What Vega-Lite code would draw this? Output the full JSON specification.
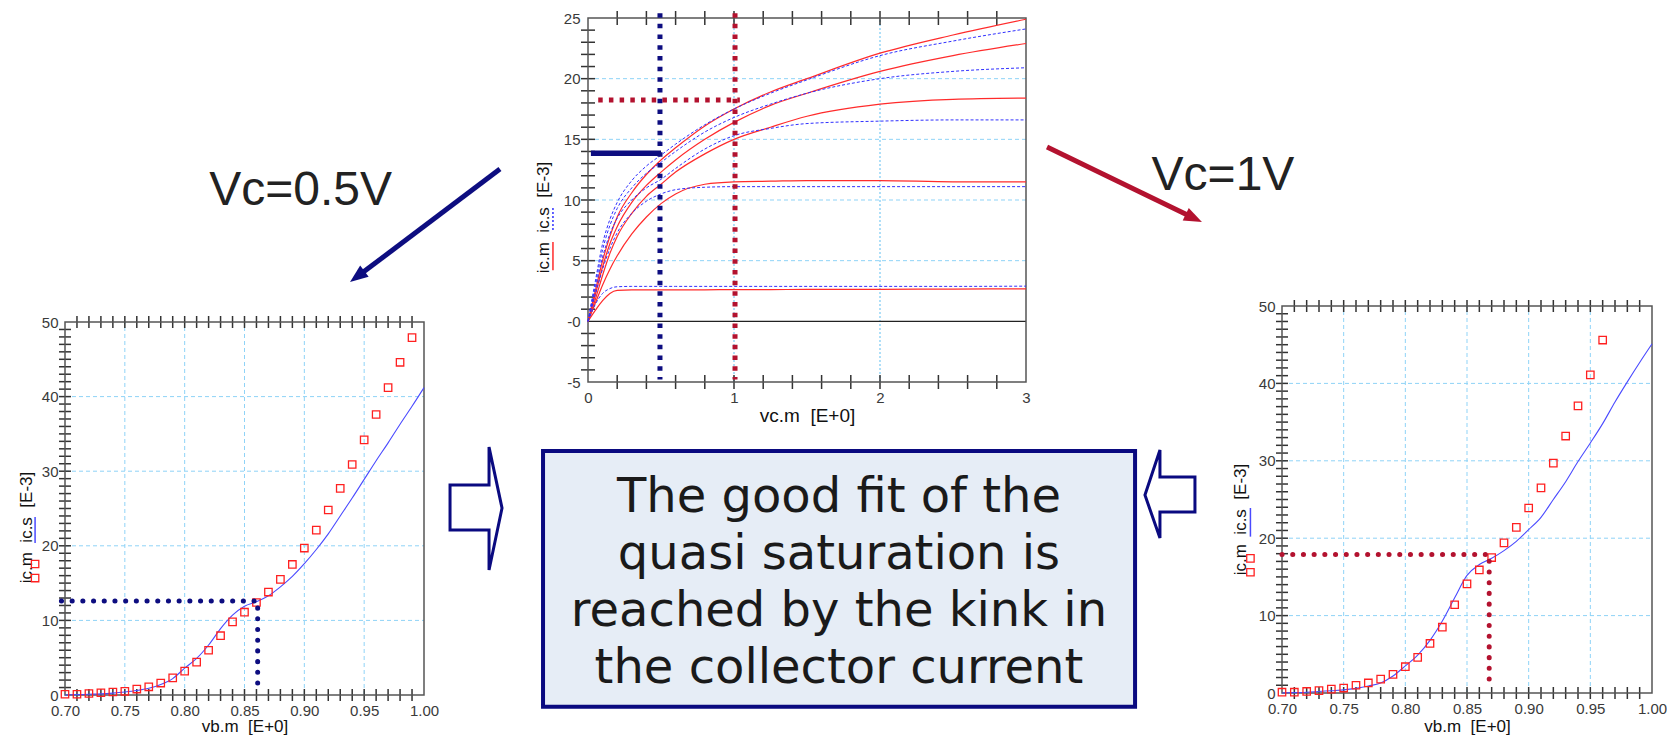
{
"$schema": "https://vega.github.io/schema/vega-lite/v6.json",
"width": 1667, "height": 738,
"autosize": {"type": "none"},
"padding": 0,
"background": "white",
"config": {
  "view": {"stroke": null},
  "axis": {"grid": false, "ticks": false, "domain": false, "labelFont": "Liberation Sans", "labelFontSize": 15, "labelColor": "#3a3a3a", "labelFlush": false, "labelOverlap": false, "labelPadding": 4, "titleFont": "Liberation Sans", "titleFontSize": 17, "titleFontWeight": "normal", "titleColor": "#111111"}
},
"datasets": {
  "iv": [
    {"vc":0,"Am":0,"As":0,"Bm":0,"Bs":0,"Cm":0,"Cs":0,"Dm":0,"Ds":0,"Em":0,"Es":0},
    {"vc":0.05,"Am":2.5,"As":3.3,"Bm":2.2,"Bs":3.0,"Cm":1.8,"Cs":2.7,"Dm":1.5,"Ds":2.2,"Em":0.9,"Es":1.4},
    {"vc":0.1,"Am":5.0,"As":6.4,"Bm":4.5,"Bs":5.9,"Cm":3.8,"Cs":5.3,"Dm":3.0,"Ds":4.3,"Em":1.7,"Es":2.3},
    {"vc":0.15,"Am":7.0,"As":8.4,"Bm":6.4,"Bs":7.9,"Cm":5.6,"Cs":7.2,"Dm":4.3,"Ds":6.0,"Em":2.3,"Es":2.7},
    {"vc":0.2,"Am":8.6,"As":9.8,"Bm":7.8,"Bs":9.3,"Cm":7.0,"Cs":8.5,"Dm":5.4,"Ds":7.3,"Em":2.55,"Es":2.85},
    {"vc":0.3,"Am":10.6,"As":11.6,"Bm":9.8,"Bs":11.0,"Cm":8.9,"Cs":10.0,"Dm":7.2,"Ds":8.9,"Em":2.6,"Es":2.88},
    {"vc":0.4,"Am":12.1,"As":12.8,"Bm":11.2,"Bs":12.2,"Cm":10.3,"Cs":11.0,"Dm":8.6,"Ds":9.9,"Em":2.6,"Es":2.88},
    {"vc":0.5,"Am":13.3,"As":13.7,"Bm":12.3,"Bs":13.1,"Cm":11.3,"Cs":11.7,"Dm":9.7,"Ds":10.5,"Em":2.6,"Es":2.88},
    {"vc":0.6,"Am":14.3,"As":14.6,"Bm":13.3,"Bs":14.0,"Cm":12.3,"Cs":12.6,"Dm":10.5,"Ds":10.85,"Em":2.6,"Es":2.88},
    {"vc":0.8,"Am":16.1,"As":16.2,"Bm":15.0,"Bs":15.6,"Cm":13.8,"Cs":14.2,"Dm":11.3,"Ds":11.05,"Em":2.6,"Es":2.88},
    {"vc":1.0,"Am":17.5,"As":17.5,"Bm":16.4,"Bs":16.8,"Cm":15.0,"Cs":15.3,"Dm":11.5,"Ds":11.1,"Em":2.62,"Es":2.88},
    {"vc":1.25,"Am":18.9,"As":18.8,"Bm":17.8,"Bs":17.9,"Cm":16.0,"Cs":15.9,"Dm":11.55,"Ds":11.1,"Em":2.62,"Es":2.88},
    {"vc":1.5,"Am":20.0,"As":19.9,"Bm":18.8,"Bs":18.8,"Cm":16.9,"Cs":16.3,"Dm":11.6,"Ds":11.1,"Em":2.63,"Es":2.88},
    {"vc":2.0,"Am":22.1,"As":21.9,"Bm":20.6,"Bs":20.0,"Cm":17.9,"Cs":16.5,"Dm":11.6,"Ds":11.1,"Em":2.64,"Es":2.88},
    {"vc":2.5,"Am":23.6,"As":23.1,"Bm":21.9,"Bs":20.6,"Cm":18.3,"Cs":16.6,"Dm":11.5,"Ds":11.1,"Em":2.66,"Es":2.88},
    {"vc":3.0,"Am":24.9,"As":24.1,"Bm":22.9,"Bs":20.9,"Cm":18.4,"Cs":16.6,"Dm":11.5,"Ds":11.1,"Em":2.68,"Es":2.9}
  ],
  "lb": [
    {"vb":0.70,"m":0.1,"s":0.0},{"vb":0.71,"m":0.1,"s":0.05},{"vb":0.72,"m":0.2,"s":0.1},{"vb":0.73,"m":0.3,"s":0.15},
    {"vb":0.74,"m":0.4,"s":0.25},{"vb":0.75,"m":0.5,"s":0.4},{"vb":0.76,"m":0.8,"s":0.6},{"vb":0.77,"m":1.1,"s":0.9},
    {"vb":0.78,"m":1.6,"s":1.4},{"vb":0.79,"m":2.3,"s":2.2},{"vb":0.80,"m":3.2,"s":3.6},{"vb":0.81,"m":4.4,"s":4.9},
    {"vb":0.82,"m":6.0,"s":6.7},{"vb":0.83,"m":7.95,"s":8.9},{"vb":0.84,"m":9.8,"s":10.7},{"vb":0.85,"m":11.1,"s":11.9},
    {"vb":0.86,"m":12.4,"s":12.5},{"vb":0.87,"m":13.8,"s":13.3},{"vb":0.88,"m":15.5,"s":14.5},{"vb":0.89,"m":17.5,"s":15.9},
    {"vb":0.90,"m":19.7,"s":17.6},{"vb":0.91,"m":22.1,"s":19.5},{"vb":0.92,"m":24.8,"s":21.6},{"vb":0.93,"m":27.7,"s":24.0},
    {"vb":0.94,"m":30.9,"s":26.4},{"vb":0.95,"m":34.2,"s":28.9},{"vb":0.96,"m":37.6,"s":31.4},{"vb":0.97,"m":41.2,"s":33.8},
    {"vb":0.98,"m":44.6,"s":36.3},{"vb":0.99,"m":47.9,"s":38.7},{"vb":1.00,"m":null,"s":41.2}
  ],
  "rb": [
    {"vb":0.70,"m":0.1,"s":0.0},{"vb":0.71,"m":0.1,"s":0.05},{"vb":0.72,"m":0.2,"s":0.1},{"vb":0.73,"m":0.3,"s":0.2},
    {"vb":0.74,"m":0.5,"s":0.3},{"vb":0.75,"m":0.64,"s":0.4},{"vb":0.76,"m":1.0,"s":0.6},{"vb":0.77,"m":1.3,"s":0.9},
    {"vb":0.78,"m":1.8,"s":1.3},{"vb":0.79,"m":2.4,"s":2.2},{"vb":0.80,"m":3.4,"s":3.5},{"vb":0.81,"m":4.6,"s":4.9},
    {"vb":0.82,"m":6.4,"s":6.8},{"vb":0.83,"m":8.5,"s":9.3},{"vb":0.84,"m":11.4,"s":12.3},{"vb":0.85,"m":14.1,"s":15.2},
    {"vb":0.86,"m":15.9,"s":16.6},{"vb":0.87,"m":17.5,"s":17.4},{"vb":0.88,"m":19.4,"s":18.4},{"vb":0.89,"m":21.4,"s":19.6},
    {"vb":0.90,"m":23.9,"s":21.1},{"vb":0.91,"m":26.5,"s":22.7},{"vb":0.92,"m":29.7,"s":25.0},{"vb":0.93,"m":33.2,"s":27.3},
    {"vb":0.94,"m":37.1,"s":29.9},{"vb":0.95,"m":41.1,"s":32.3},{"vb":0.96,"m":45.6,"s":34.8},{"vb":0.97,"m":null,"s":37.6},
    {"vb":0.98,"m":null,"s":40.2},{"vb":0.99,"m":null,"s":42.7},{"vb":1.00,"m":null,"s":45.1}
  ],
  "ldots": [{"p":1,"vb":0.697,"ic":12.6},{"p":2,"vb":0.861,"ic":12.6},{"p":3,"vb":0.861,"ic":1.2}],
  "rdots": [{"p":1,"vb":0.700,"ic":17.9},{"p":2,"vb":0.868,"ic":17.9},{"p":3,"vb":0.868,"ic":0.85}],
  "vbgrid": [{"vb":0.75},{"vb":0.8},{"vb":0.85},{"vb":0.9},{"vb":0.95}],
  "icgrid": [{"ic":10},{"ic":20},{"ic":30},{"ic":40}],
  "note": [{"text":"The good fit of the\nquasi saturation is\nreached by the kink in\nthe collector current"}],
  "one": [{}]
},
"layer": [
{
  "layer": [
    {"data":{"values":[{"ic":5},{"ic":10},{"ic":15},{"ic":20}]},
     "mark":{"type":"rule","color":"#8fd3f7","strokeWidth":1,"strokeDash":[4,3]},
     "encoding":{"y":{"field":"ic","type":"quantitative","scale":{"domain":[-5,25],"range":[382,18],"nice":false,"zero":false},"axis":null},
                 "x":{"datum":0,"type":"quantitative","scale":{"domain":[0,3],"range":[588,1026],"nice":false,"zero":false},"axis":null},
                 "x2":{"datum":3}}},
    {"data":{"values":[{"vc":1},{"vc":2}]},
     "mark":{"type":"rule","color":"#9bd7f7","strokeWidth":1.6,"strokeDash":[2,2]},
     "encoding":{"x":{"field":"vc","type":"quantitative","scale":{"domain":[0,3],"range":[588,1026],"nice":false,"zero":false},"axis":null},
                 "y":{"datum":-5,"type":"quantitative","scale":{"domain":[-5,25],"range":[382,18],"nice":false,"zero":false},"axis":null},
                 "y2":{"datum":25}}},
    {"data":{"name":"one"},
     "mark":{"type":"rule","color":"#222222","strokeWidth":1.2},
     "encoding":{"y":{"datum":0,"type":"quantitative","scale":{"domain":[-5,25],"range":[382,18],"nice":false,"zero":false},"axis":null},
                 "x":{"datum":0,"type":"quantitative","scale":{"domain":[0,3],"range":[588,1026],"nice":false,"zero":false},"axis":null},
                 "x2":{"datum":3}}},
    {"data":{"values":[{"vc":0.2},{"vc":0.4},{"vc":0.6},{"vc":0.8},{"vc":1},{"vc":1.2},{"vc":1.4},{"vc":1.6},{"vc":1.8},{"vc":2},{"vc":2.2},{"vc":2.4},{"vc":2.6},{"vc":2.8}]},
     "mark":{"type":"tick","color":"#333333","thickness":1.5,"size":14,"orient":"vertical","opacity":1},
     "encoding":{"x":{"field":"vc","type":"quantitative","scale":{"domain":[0,3],"range":[588,1026],"nice":false,"zero":false},"axis":null},
                 "y":{"datum":25,"type":"quantitative","scale":{"domain":[-5,25],"range":[382,18],"nice":false,"zero":false},"axis":null}}},
    {"data":{"values":[{"vc":0.2},{"vc":0.4},{"vc":0.6},{"vc":0.8},{"vc":1},{"vc":1.2},{"vc":1.4},{"vc":1.6},{"vc":1.8},{"vc":2},{"vc":2.2},{"vc":2.4},{"vc":2.6},{"vc":2.8}]},
     "mark":{"type":"tick","color":"#333333","thickness":1.5,"size":14,"orient":"vertical","opacity":1},
     "encoding":{"x":{"field":"vc","type":"quantitative","scale":{"domain":[0,3],"range":[588,1026],"nice":false,"zero":false},"axis":null},
                 "y":{"datum":-5,"type":"quantitative","scale":{"domain":[-5,25],"range":[382,18],"nice":false,"zero":false},"axis":null}}},
    {"data":{"values":[{"ic":-4},{"ic":-3},{"ic":-2},{"ic":-1},{"ic":1},{"ic":2},{"ic":3},{"ic":4},{"ic":5},{"ic":6},{"ic":7},{"ic":8},{"ic":9},{"ic":10},{"ic":11},{"ic":12},{"ic":13},{"ic":14},{"ic":15},{"ic":16},{"ic":17},{"ic":18},{"ic":19},{"ic":20},{"ic":21},{"ic":22},{"ic":23},{"ic":24}]},
     "mark":{"type":"tick","color":"#333333","thickness":1.5,"size":14,"orient":"horizontal","opacity":1},
     "encoding":{"y":{"field":"ic","type":"quantitative","scale":{"domain":[-5,25],"range":[382,18],"nice":false,"zero":false},"axis":null},
                 "x":{"datum":0,"type":"quantitative","scale":{"domain":[0,3],"range":[588,1026],"nice":false,"zero":false},"axis":null}}},
    {"data":{"name":"one"},
     "mark":{"type":"rect","fill":null,"stroke":"#555555","strokeWidth":1.5},
     "encoding":{"x":{"datum":0,"type":"quantitative","scale":{"domain":[0,3],"range":[588,1026],"nice":false,"zero":false},"axis":null},
                 "x2":{"datum":3},
                 "y":{"datum":-5,"type":"quantitative","scale":{"domain":[-5,25],"range":[382,18],"nice":false,"zero":false},"axis":null},
                 "y2":{"datum":25}}},
    {"data":{"name":"iv"},
     "transform":[{"fold":["Am","Bm","Cm","Dm","Em"],"as":["curve","ic"]}],
     "mark":{"type":"line","color":"#ff2b2b","strokeWidth":1.2,"interpolate":"monotone"},
     "encoding":{"x":{"field":"vc","type":"quantitative","scale":{"domain":[0,3],"range":[588,1026],"nice":false,"zero":false},
                      "axis":{"orient":"bottom","offset":-356,"values":[0,1,2,3],"labelPadding":8,"title":"vc.m\u00a0\u00a0[E+0]","titleFontSize":19,"titleY":39,"titleBaseline":"alphabetic"}},
                 "y":{"field":"ic","type":"quantitative","scale":{"domain":[-5,25],"range":[382,18],"nice":false,"zero":false},
                      "axis":{"orient":"left","offset":-588,"values":[-5,0,5,10,15,20,25],"labelExpr":"datum.value === 0 ? '-0' : (datum.value < 0 ? '-' + abs(datum.value) : datum.label)","labelPadding":8,"title":"ic.m\u00a0\u00a0ic.s\u00a0\u00a0[E-3]","titleFontSize":17,"titleX":-40,"titleY":217,"titleBaseline":"alphabetic","titleAngle":270,"titleAlign":"center"}},
                 "detail":{"field":"curve"}}},
    {"data":{"name":"iv"},
     "transform":[{"fold":["As","Bs","Cs","Ds","Es"],"as":["curve","ic"]}],
     "mark":{"type":"line","color":"#3030ff","strokeWidth":1,"strokeDash":[3,2],"interpolate":"monotone"},
     "encoding":{"x":{"field":"vc","type":"quantitative","scale":{"domain":[0,3],"range":[588,1026],"nice":false,"zero":false},"axis":null},
                 "y":{"field":"ic","type":"quantitative","scale":{"domain":[-5,25],"range":[382,18],"nice":false,"zero":false},"axis":null},
                 "detail":{"field":"curve"}}},
    {"data":{"name":"one"},
     "mark":{"type":"rule","color":"#0d0d80","strokeWidth":5,"strokeDash":[4.5,6.2]},
     "encoding":{"x":{"datum":0.493,"type":"quantitative","scale":{"domain":[0,3],"range":[588,1026],"nice":false,"zero":false},"axis":null},
                 "y":{"datum":25.4,"type":"quantitative","scale":{"domain":[-5,25],"range":[382,18],"nice":false,"zero":false},"axis":null},
                 "y2":{"datum":-4.8}}},
    {"data":{"name":"one"},
     "mark":{"type":"rule","color":"#b3122f","strokeWidth":5,"strokeDash":[4.5,6.2]},
     "encoding":{"x":{"datum":1.007,"type":"quantitative","scale":{"domain":[0,3],"range":[588,1026],"nice":false,"zero":false},"axis":null},
                 "y":{"datum":25.4,"type":"quantitative","scale":{"domain":[-5,25],"range":[382,18],"nice":false,"zero":false},"axis":null},
                 "y2":{"datum":-4.8}}},
    {"data":{"name":"one"},
     "mark":{"type":"rule","color":"#b3122f","strokeWidth":5,"strokeDash":[4.5,6.2]},
     "encoding":{"x":{"datum":0.07,"type":"quantitative","scale":{"domain":[0,3],"range":[588,1026],"nice":false,"zero":false},"axis":null},
                 "x2":{"datum":1.04},
                 "y":{"datum":18.25,"type":"quantitative","scale":{"domain":[-5,25],"range":[382,18],"nice":false,"zero":false},"axis":null}}},
    {"data":{"name":"one"},
     "mark":{"type":"rule","color":"#0d0d80","strokeWidth":5.5},
     "encoding":{"x":{"datum":0.02,"type":"quantitative","scale":{"domain":[0,3],"range":[588,1026],"nice":false,"zero":false},"axis":null},
                 "x2":{"datum":0.5},
                 "y":{"datum":13.85,"type":"quantitative","scale":{"domain":[-5,25],"range":[382,18],"nice":false,"zero":false},"axis":null}}},
    {"data":{"name":"one"},
     "mark":{"type":"rule","color":"#ff2b2b","strokeWidth":1.5},
     "encoding":{"x":{"datum":-0.24,"type":"quantitative","scale":{"domain":[0,3],"range":[588,1026],"nice":false,"zero":false},"axis":null},
                 "y":{"datum":6.54,"type":"quantitative","scale":{"domain":[-5,25],"range":[382,18],"nice":false,"zero":false},"axis":null},
                 "y2":{"datum":4.2}}},
    {"data":{"name":"one"},
     "mark":{"type":"rule","color":"#3030ff","strokeWidth":1.5,"strokeDash":[2,2]},
     "encoding":{"x":{"datum":-0.24,"type":"quantitative","scale":{"domain":[0,3],"range":[588,1026],"nice":false,"zero":false},"axis":null},
                 "y":{"datum":9.34,"type":"quantitative","scale":{"domain":[-5,25],"range":[382,18],"nice":false,"zero":false},"axis":null},
                 "y2":{"datum":7.36}}},
    {"data":{"name":"one"},
     "mark":{"type":"rect","fill":"#e6edf6","stroke":"#0a0a80","strokeWidth":4},
     "encoding":{"x":{"datum":-0.308,"type":"quantitative","scale":{"domain":[0,3],"range":[588,1026],"nice":false,"zero":false},"axis":null},
                 "x2":{"datum":3.747},
                 "y":{"datum":-10.69,"type":"quantitative","scale":{"domain":[-5,25],"range":[382,18],"nice":false,"zero":false},"axis":null},
                 "y2":{"datum":-31.77}}},
    {"data":{"name":"note"},
     "mark":{"type":"text","font":"DejaVu Sans","fontSize":48,"lineHeight":57.2,"lineBreak":"\n","align":"center","baseline":"alphabetic","color":"#1a1a1a"},
     "encoding":{"text":{"field":"text"},
                 "x":{"datum":1.719,"type":"quantitative","scale":{"domain":[0,3],"range":[588,1026],"nice":false,"zero":false},"axis":null},
                 "y":{"datum":-15.69,"type":"quantitative","scale":{"domain":[-5,25],"range":[382,18],"nice":false,"zero":false},"axis":null}}},
    {"data":{"values":[{"label":"Vc=0.5V"}]},
     "mark":{"type":"text","font":"Liberation Sans","fontSize":48,"align":"center","baseline":"alphabetic","color":"#222222"},
     "encoding":{"text":{"field":"label"},
                 "x":{"datum":-1.969,"type":"quantitative","scale":{"domain":[0,3],"range":[588,1026],"nice":false,"zero":false},"axis":null},
                 "y":{"datum":9.59,"type":"quantitative","scale":{"domain":[-5,25],"range":[382,18],"nice":false,"zero":false},"axis":null}}},
    {"data":{"values":[{"label":"Vc=1V"}]},
     "mark":{"type":"text","font":"Liberation Sans","fontSize":48,"align":"center","baseline":"alphabetic","color":"#222222"},
     "encoding":{"text":{"field":"label"},
                 "x":{"datum":4.349,"type":"quantitative","scale":{"domain":[0,3],"range":[588,1026],"nice":false,"zero":false},"axis":null},
                 "y":{"datum":10.82,"type":"quantitative","scale":{"domain":[-5,25],"range":[382,18],"nice":false,"zero":false},"axis":null}}},
    {"data":{"name":"one"},
     "mark":{"type":"rule","color":"#0d0d80","strokeWidth":5},
     "encoding":{"x":{"datum":-0.603,"type":"quantitative","scale":{"domain":[0,3],"range":[588,1026],"nice":false,"zero":false},"axis":null},
                 "x2":{"datum":-1.564},
                 "y":{"datum":12.55,"type":"quantitative","scale":{"domain":[-5,25],"range":[382,18],"nice":false,"zero":false},"axis":null},
                 "y2":{"datum":3.83}}},
    {"data":{"name":"one"},
     "mark":{"type":"rule","color":"#b3122f","strokeWidth":5},
     "encoding":{"x":{"datum":3.144,"type":"quantitative","scale":{"domain":[0,3],"range":[588,1026],"nice":false,"zero":false},"axis":null},
                 "x2":{"datum":4.131},
                 "y":{"datum":14.37,"type":"quantitative","scale":{"domain":[-5,25],"range":[382,18],"nice":false,"zero":false},"axis":null},
                 "y2":{"datum":8.61}}},
    {"data":{"name":"one"},
     "mark":{"type":"point","shape":"M 0 0 L -18 -7 L -18 7 Z","size":4,"angle":143,"filled":true,"color":"#0d0d80","opacity":1,"strokeWidth":0},
     "encoding":{"x":{"datum":-1.63,"type":"quantitative","scale":{"domain":[0,3],"range":[588,1026],"nice":false,"zero":false},"axis":null},
                 "y":{"datum":3.24,"type":"quantitative","scale":{"domain":[-5,25],"range":[382,18],"nice":false,"zero":false},"axis":null}}},
    {"data":{"name":"one"},
     "mark":{"type":"point","shape":"M 0 0 L -18 -7 L -18 7 Z","size":4,"angle":25.8,"filled":true,"color":"#b3122f","opacity":1,"strokeWidth":0},
     "encoding":{"x":{"datum":4.205,"type":"quantitative","scale":{"domain":[0,3],"range":[588,1026],"nice":false,"zero":false},"axis":null},
                 "y":{"datum":8.18,"type":"quantitative","scale":{"domain":[-5,25],"range":[382,18],"nice":false,"zero":false},"axis":null}}},
    {"data":{"name":"one"},
     "mark":{"type":"point","shape":"M -20 -23 L 19 -23 L 19 -61 L 32 0 L 19 62 L 19 22 L -20 22 Z","size":4,"filled":true,"fill":"#ffffff","stroke":"#0a0a80","strokeWidth":3,"opacity":1},
     "encoding":{"x":{"datum":-0.808,"type":"quantitative","scale":{"domain":[0,3],"range":[588,1026],"nice":false,"zero":false},"axis":null},
                 "y":{"datum":-15.39,"type":"quantitative","scale":{"domain":[-5,25],"range":[382,18],"nice":false,"zero":false},"axis":null}}},
    {"data":{"name":"one"},
     "mark":{"type":"point","shape":"M 25 -18 L -10 -18 L -10 -45 L -25 0 L -10 43 L -10 17 L 25 17 Z","size":4,"filled":true,"fill":"#ffffff","stroke":"#0a0a80","strokeWidth":3,"opacity":1},
     "encoding":{"x":{"datum":3.986,"type":"quantitative","scale":{"domain":[0,3],"range":[588,1026],"nice":false,"zero":false},"axis":null},
                 "y":{"datum":-14.32,"type":"quantitative","scale":{"domain":[-5,25],"range":[382,18],"nice":false,"zero":false},"axis":null}}}
  ],
  "resolve": {"axis": {"x": "independent", "y": "independent"}}
},
{
  "layer": [
    {"data":{"name":"icgrid"},
     "mark":{"type":"rule","color":"#8fd3f7","strokeWidth":1,"strokeDash":[4,3]},
     "encoding":{"y":{"field":"ic","type":"quantitative","scale":{"domain":[0,50],"range":[695,322],"nice":false,"zero":false},"axis":null},
                 "x":{"datum":0.7,"type":"quantitative","scale":{"domain":[0.7,1.0],"range":[65,424],"nice":false,"zero":false},"axis":null},
                 "x2":{"datum":1.0}}},
    {"data":{"name":"vbgrid"},
     "mark":{"type":"rule","color":"#8fd3f7","strokeWidth":1,"strokeDash":[4,3]},
     "encoding":{"x":{"field":"vb","type":"quantitative","scale":{"domain":[0.7,1.0],"range":[65,424],"nice":false,"zero":false},"axis":null},
                 "y":{"datum":0,"type":"quantitative","scale":{"domain":[0,50],"range":[695,322],"nice":false,"zero":false},"axis":null},
                 "y2":{"datum":50}}},
    {"data":{"values":[{"vb":0.71},{"vb":0.72},{"vb":0.73},{"vb":0.74},{"vb":0.75},{"vb":0.76},{"vb":0.77},{"vb":0.78},{"vb":0.79},{"vb":0.8},{"vb":0.81},{"vb":0.82},{"vb":0.83},{"vb":0.84},{"vb":0.85},{"vb":0.86},{"vb":0.87},{"vb":0.88},{"vb":0.89},{"vb":0.9},{"vb":0.91},{"vb":0.92},{"vb":0.93},{"vb":0.94},{"vb":0.95},{"vb":0.96},{"vb":0.97},{"vb":0.98},{"vb":0.99}]},
     "mark":{"type":"tick","color":"#333333","thickness":1.5,"size":12,"orient":"vertical","opacity":1},
     "encoding":{"x":{"field":"vb","type":"quantitative","scale":{"domain":[0.7,1.0],"range":[65,424],"nice":false,"zero":false},"axis":null},
                 "y":{"datum":50,"type":"quantitative","scale":{"domain":[0,50],"range":[695,322],"nice":false,"zero":false},"axis":null}}},
    {"data":{"values":[{"vb":0.71},{"vb":0.72},{"vb":0.73},{"vb":0.74},{"vb":0.75},{"vb":0.76},{"vb":0.77},{"vb":0.78},{"vb":0.79},{"vb":0.8},{"vb":0.81},{"vb":0.82},{"vb":0.83},{"vb":0.84},{"vb":0.85},{"vb":0.86},{"vb":0.87},{"vb":0.88},{"vb":0.89},{"vb":0.9},{"vb":0.91},{"vb":0.92},{"vb":0.93},{"vb":0.94},{"vb":0.95},{"vb":0.96},{"vb":0.97},{"vb":0.98},{"vb":0.99}]},
     "mark":{"type":"tick","color":"#333333","thickness":1.5,"size":12,"orient":"vertical","opacity":1},
     "encoding":{"x":{"field":"vb","type":"quantitative","scale":{"domain":[0.7,1.0],"range":[65,424],"nice":false,"zero":false},"axis":null},
                 "y":{"datum":0,"type":"quantitative","scale":{"domain":[0,50],"range":[695,322],"nice":false,"zero":false},"axis":null}}},
    {"data":{"values":[{"ic":1},{"ic":2},{"ic":3},{"ic":4},{"ic":5},{"ic":6},{"ic":7},{"ic":8},{"ic":9},{"ic":10},{"ic":11},{"ic":12},{"ic":13},{"ic":14},{"ic":15},{"ic":16},{"ic":17},{"ic":18},{"ic":19},{"ic":20},{"ic":21},{"ic":22},{"ic":23},{"ic":24},{"ic":25},{"ic":26},{"ic":27},{"ic":28},{"ic":29},{"ic":30},{"ic":31},{"ic":32},{"ic":33},{"ic":34},{"ic":35},{"ic":36},{"ic":37},{"ic":38},{"ic":39},{"ic":40},{"ic":41},{"ic":42},{"ic":43},{"ic":44},{"ic":45},{"ic":46},{"ic":47},{"ic":48},{"ic":49}]},
     "mark":{"type":"tick","color":"#333333","thickness":1.5,"size":12,"orient":"horizontal","opacity":1},
     "encoding":{"y":{"field":"ic","type":"quantitative","scale":{"domain":[0,50],"range":[695,322],"nice":false,"zero":false},"axis":null},
                 "x":{"datum":0.7,"type":"quantitative","scale":{"domain":[0.7,1.0],"range":[65,424],"nice":false,"zero":false},"axis":null}}},
    {"data":{"name":"one"},
     "mark":{"type":"rect","fill":null,"stroke":"#555555","strokeWidth":1.5},
     "encoding":{"x":{"datum":0.7,"type":"quantitative","scale":{"domain":[0.7,1.0],"range":[65,424],"nice":false,"zero":false},"axis":null},
                 "x2":{"datum":1.0},
                 "y":{"datum":0,"type":"quantitative","scale":{"domain":[0,50],"range":[695,322],"nice":false,"zero":false},"axis":null},
                 "y2":{"datum":50}}},
    {"data":{"name":"lb"},
     "mark":{"type":"line","color":"#4a4aff","strokeWidth":1.1,"interpolate":"monotone"},
     "encoding":{"x":{"field":"vb","type":"quantitative","scale":{"domain":[0.7,1.0],"range":[65,424],"nice":false,"zero":false},
                      "axis":{"orient":"bottom","offset":-43,"values":[0.7,0.75,0.8,0.85,0.9,0.95,1.0],"format":".2f","labelPadding":8,"title":"vb.m\u00a0\u00a0[E+0]","titleY":36,"titleBaseline":"alphabetic"}},
                 "y":{"field":"s","type":"quantitative","scale":{"domain":[0,50],"range":[695,322],"nice":false,"zero":false},
                      "axis":{"orient":"left","offset":-65,"values":[0,10,20,30,40,50],"labelPadding":7,"title":"ic.m\u00a0\u00a0ic.s\u00a0\u00a0[E-3]","titleX":-34,"titleY":527,"titleBaseline":"alphabetic","titleAngle":270,"titleAlign":"center"}}}},
    {"data":{"name":"lb"},
     "transform":[{"filter":"datum.m != null"}],
     "mark":{"type":"point","shape":"square","size":55,"filled":false,"color":"#ff2020","strokeWidth":1.3,"opacity":1},
     "encoding":{"x":{"field":"vb","type":"quantitative","scale":{"domain":[0.7,1.0],"range":[65,424],"nice":false,"zero":false},"axis":null},
                 "y":{"field":"m","type":"quantitative","scale":{"domain":[0,50],"range":[695,322],"nice":false,"zero":false},"axis":null}}},
    {"data":{"name":"ldots"},
     "mark":{"type":"line","color":"#0d0d80","strokeWidth":5,"strokeDash":[0.1,10.6],"strokeCap":"round"},
     "encoding":{"x":{"field":"vb","type":"quantitative","scale":{"domain":[0.7,1.0],"range":[65,424],"nice":false,"zero":false},"axis":null},
                 "y":{"field":"ic","type":"quantitative","scale":{"domain":[0,50],"range":[695,322],"nice":false,"zero":false},"axis":null},
                 "order":{"field":"p"}}},
    {"data":{"name":"one"},
     "mark":{"type":"rule","color":"#4a4aff","strokeWidth":1.5},
     "encoding":{"x":{"datum":0.675,"type":"quantitative","scale":{"domain":[0.7,1.0],"range":[65,424],"nice":false,"zero":false},"axis":null},
                 "y":{"datum":23.86,"type":"quantitative","scale":{"domain":[0,50],"range":[695,322],"nice":false,"zero":false},"axis":null},
                 "y2":{"datum":20.38}}},
    {"data":{"values":[{"ic":17.56},{"ic":15.68}]},
     "mark":{"type":"point","shape":"square","size":55,"filled":false,"color":"#ff2020","strokeWidth":1.3,"opacity":1},
     "encoding":{"x":{"datum":0.675,"type":"quantitative","scale":{"domain":[0.7,1.0],"range":[65,424],"nice":false,"zero":false},"axis":null},
                 "y":{"field":"ic","type":"quantitative","scale":{"domain":[0,50],"range":[695,322],"nice":false,"zero":false},"axis":null}}}
  ],
  "resolve": {"axis": {"x": "independent", "y": "independent"}}
},
{
  "layer": [
    {"data":{"name":"icgrid"},
     "mark":{"type":"rule","color":"#8fd3f7","strokeWidth":1,"strokeDash":[4,3]},
     "encoding":{"y":{"field":"ic","type":"quantitative","scale":{"domain":[0,50],"range":[693,306],"nice":false,"zero":false},"axis":null},
                 "x":{"datum":0.7,"type":"quantitative","scale":{"domain":[0.7,1.0],"range":[1282,1652],"nice":false,"zero":false},"axis":null},
                 "x2":{"datum":1.0}}},
    {"data":{"name":"vbgrid"},
     "mark":{"type":"rule","color":"#8fd3f7","strokeWidth":1,"strokeDash":[4,3]},
     "encoding":{"x":{"field":"vb","type":"quantitative","scale":{"domain":[0.7,1.0],"range":[1282,1652],"nice":false,"zero":false},"axis":null},
                 "y":{"datum":0,"type":"quantitative","scale":{"domain":[0,50],"range":[693,306],"nice":false,"zero":false},"axis":null},
                 "y2":{"datum":50}}},
    {"data":{"values":[{"vb":0.71},{"vb":0.72},{"vb":0.73},{"vb":0.74},{"vb":0.75},{"vb":0.76},{"vb":0.77},{"vb":0.78},{"vb":0.79},{"vb":0.8},{"vb":0.81},{"vb":0.82},{"vb":0.83},{"vb":0.84},{"vb":0.85},{"vb":0.86},{"vb":0.87},{"vb":0.88},{"vb":0.89},{"vb":0.9},{"vb":0.91},{"vb":0.92},{"vb":0.93},{"vb":0.94},{"vb":0.95},{"vb":0.96},{"vb":0.97},{"vb":0.98},{"vb":0.99}]},
     "mark":{"type":"tick","color":"#333333","thickness":1.5,"size":12,"orient":"vertical","opacity":1},
     "encoding":{"x":{"field":"vb","type":"quantitative","scale":{"domain":[0.7,1.0],"range":[1282,1652],"nice":false,"zero":false},"axis":null},
                 "y":{"datum":50,"type":"quantitative","scale":{"domain":[0,50],"range":[693,306],"nice":false,"zero":false},"axis":null}}},
    {"data":{"values":[{"vb":0.71},{"vb":0.72},{"vb":0.73},{"vb":0.74},{"vb":0.75},{"vb":0.76},{"vb":0.77},{"vb":0.78},{"vb":0.79},{"vb":0.8},{"vb":0.81},{"vb":0.82},{"vb":0.83},{"vb":0.84},{"vb":0.85},{"vb":0.86},{"vb":0.87},{"vb":0.88},{"vb":0.89},{"vb":0.9},{"vb":0.91},{"vb":0.92},{"vb":0.93},{"vb":0.94},{"vb":0.95},{"vb":0.96},{"vb":0.97},{"vb":0.98},{"vb":0.99}]},
     "mark":{"type":"tick","color":"#333333","thickness":1.5,"size":12,"orient":"vertical","opacity":1},
     "encoding":{"x":{"field":"vb","type":"quantitative","scale":{"domain":[0.7,1.0],"range":[1282,1652],"nice":false,"zero":false},"axis":null},
                 "y":{"datum":0,"type":"quantitative","scale":{"domain":[0,50],"range":[693,306],"nice":false,"zero":false},"axis":null}}},
    {"data":{"values":[{"ic":1},{"ic":2},{"ic":3},{"ic":4},{"ic":5},{"ic":6},{"ic":7},{"ic":8},{"ic":9},{"ic":10},{"ic":11},{"ic":12},{"ic":13},{"ic":14},{"ic":15},{"ic":16},{"ic":17},{"ic":18},{"ic":19},{"ic":20},{"ic":21},{"ic":22},{"ic":23},{"ic":24},{"ic":25},{"ic":26},{"ic":27},{"ic":28},{"ic":29},{"ic":30},{"ic":31},{"ic":32},{"ic":33},{"ic":34},{"ic":35},{"ic":36},{"ic":37},{"ic":38},{"ic":39},{"ic":40},{"ic":41},{"ic":42},{"ic":43},{"ic":44},{"ic":45},{"ic":46},{"ic":47},{"ic":48},{"ic":49}]},
     "mark":{"type":"tick","color":"#333333","thickness":1.5,"size":12,"orient":"horizontal","opacity":1},
     "encoding":{"y":{"field":"ic","type":"quantitative","scale":{"domain":[0,50],"range":[693,306],"nice":false,"zero":false},"axis":null},
                 "x":{"datum":0.7,"type":"quantitative","scale":{"domain":[0.7,1.0],"range":[1282,1652],"nice":false,"zero":false},"axis":null}}},
    {"data":{"name":"one"},
     "mark":{"type":"rect","fill":null,"stroke":"#555555","strokeWidth":1.5},
     "encoding":{"x":{"datum":0.7,"type":"quantitative","scale":{"domain":[0.7,1.0],"range":[1282,1652],"nice":false,"zero":false},"axis":null},
                 "x2":{"datum":1.0},
                 "y":{"datum":0,"type":"quantitative","scale":{"domain":[0,50],"range":[693,306],"nice":false,"zero":false},"axis":null},
                 "y2":{"datum":50}}},
    {"data":{"name":"rb"},
     "mark":{"type":"line","color":"#4a4aff","strokeWidth":1.1,"interpolate":"monotone"},
     "encoding":{"x":{"field":"vb","type":"quantitative","scale":{"domain":[0.7,1.0],"range":[1282,1652],"nice":false,"zero":false},
                      "axis":{"orient":"bottom","offset":-45,"values":[0.7,0.75,0.8,0.85,0.9,0.95,1.0],"format":".2f","labelPadding":8,"title":"vb.m\u00a0\u00a0[E+0]","titleY":38,"titleBaseline":"alphabetic"}},
                 "y":{"field":"s","type":"quantitative","scale":{"domain":[0,50],"range":[693,306],"nice":false,"zero":false},
                      "axis":{"orient":"left","offset":-1282,"values":[0,10,20,30,40,50],"labelPadding":7,"title":"ic.m\u00a0\u00a0ic.s\u00a0\u00a0[E-3]","titleX":-37,"titleY":519,"titleBaseline":"alphabetic","titleAngle":270,"titleAlign":"center"}}}},
    {"data":{"name":"rb"},
     "transform":[{"filter":"datum.m != null"}],
     "mark":{"type":"point","shape":"square","size":55,"filled":false,"color":"#ff2020","strokeWidth":1.3,"opacity":1},
     "encoding":{"x":{"field":"vb","type":"quantitative","scale":{"domain":[0.7,1.0],"range":[1282,1652],"nice":false,"zero":false},"axis":null},
                 "y":{"field":"m","type":"quantitative","scale":{"domain":[0,50],"range":[693,306],"nice":false,"zero":false},"axis":null}}},
    {"data":{"name":"rdots"},
     "mark":{"type":"line","color":"#b3122f","strokeWidth":5,"strokeDash":[0.1,10.6],"strokeCap":"round"},
     "encoding":{"x":{"field":"vb","type":"quantitative","scale":{"domain":[0.7,1.0],"range":[1282,1652],"nice":false,"zero":false},"axis":null},
                 "y":{"field":"ic","type":"quantitative","scale":{"domain":[0,50],"range":[693,306],"nice":false,"zero":false},"axis":null},
                 "order":{"field":"p"}}},
    {"data":{"name":"one"},
     "mark":{"type":"rule","color":"#4a4aff","strokeWidth":1.5},
     "encoding":{"x":{"datum":0.6744,"type":"quantitative","scale":{"domain":[0.7,1.0],"range":[1282,1652],"nice":false,"zero":false},"axis":null},
                 "y":{"datum":23.9,"type":"quantitative","scale":{"domain":[0,50],"range":[693,306],"nice":false,"zero":false},"axis":null},
                 "y2":{"datum":20.2}}},
    {"data":{"values":[{"ic":17.4},{"ic":15.6}]},
     "mark":{"type":"point","shape":"square","size":55,"filled":false,"color":"#ff2020","strokeWidth":1.3,"opacity":1},
     "encoding":{"x":{"datum":0.6744,"type":"quantitative","scale":{"domain":[0.7,1.0],"range":[1282,1652],"nice":false,"zero":false},"axis":null},
                 "y":{"field":"ic","type":"quantitative","scale":{"domain":[0,50],"range":[693,306],"nice":false,"zero":false},"axis":null}}}
  ],
  "resolve": {"axis": {"x": "independent", "y": "independent"}}
}
],
"resolve": {"scale": {"x": "independent", "y": "independent"}, "axis": {"x": "independent", "y": "independent"}}
}
